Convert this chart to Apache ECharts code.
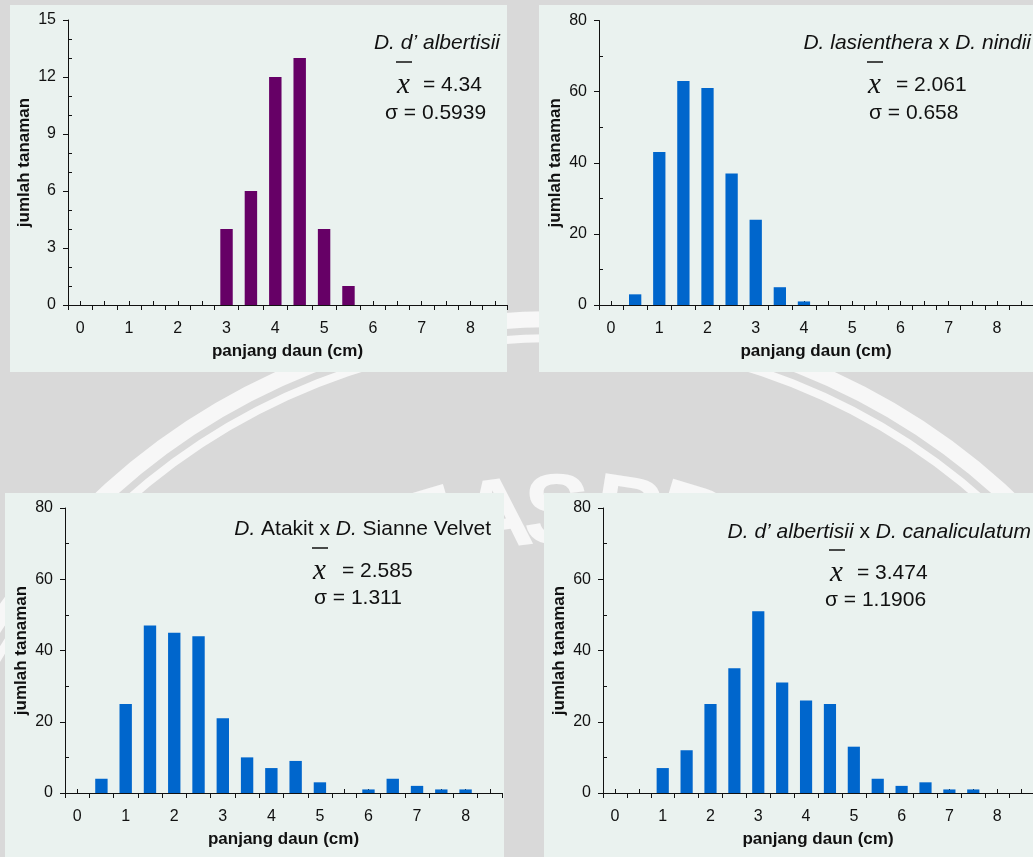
<!DOCTYPE html>
<html>
<head>
<meta charset="utf-8">
<script src="https://cdn.jsdelivr.net/npm/echarts@6/dist/echarts.min.js"></script>
<style>
  html, body { margin: 0; padding: 0; background: #d9d9d9; }
  #chart { width: 1033px; height: 857px; }
</style>
</head>
<body>
<div id="chart"></div>
<script>
// Leaf-length classes (cm), one bar per half-centimetre class
const lengthBins = ['0', '0.5', '1', '1.5', '2', '2.5', '3', '3.5', '4', '4.5',
                    '5', '5.5', '6', '6.5', '7', '7.5', '8', '8.5'];

// Number of plants per class
const countsAlbertisii = [0, 0, 0, 0, 0, 0, 4, 6, 12, 13, 4, 1, 0, 0, 0, 0, 0, 0];
const countsLasientheraNindii = [0, 3, 43, 63, 61, 37, 24, 5, 1, 0, 0, 0, 0, 0, 0, 0, 0, 0];
const countsAtakitSianne = [0, 4, 25, 47, 45, 44, 21, 10, 7, 9, 3, 0, 1, 4, 2, 1, 1, 0];
const countsAlbertisiiCanaliculatum = [0, 0, 7, 12, 25, 35, 51, 31, 26, 25, 13, 4, 2, 3, 1, 1, 0, 0];

// Summary statistics shown in each panel
const meanLabels = ['4.34', '2.061', '2.585', '3.474'];
const sigmaLabels = ['0.5939', '0.658', '1.311', '1.1906'];
const titleLabels = [
  '{i|D. d’ albertisii}',
  '{i|D. lasienthera} x {i|D. nindii}',
  '{i|D.} Atakit x {i|D.} Sianne Velvet',
  '{i|D. d’ albertisii} x {i|D. canaliculatum}'
];

// Y-axis ranges
const yMaxes = [15, 80, 80, 80];
const ySteps = [3, 20, 20, 20];
const yMinorSplits = [3, 2, 2, 2];

const xAxisName = 'panjang daun (cm)';
const yAxisName = 'jumlah tanaman';

const SANS = '"Liberation Sans", Arial, sans-serif';
const SERIF = '"Liberation Serif", "Times New Roman", serif';
const INK = '#111';
const NOTE_SIZE = 21;
const TICK_SIZE = 16;

const panels = [
  { values: countsAlbertisii, color: '#660066',
    bg: [10, 5, 497, 367], grid: { left: 68, top: 20, width: 439, height: 285 },
    titleAt: [500, 43], xAt: [397, 85], eqAt: [423, 85], sigmaAt: [385, 113] },
  { values: countsLasientheraNindii, color: '#0066cc',
    bg: [539, 5, 494, 367], grid: { left: 599, top: 20.5, width: 434, height: 284.5 },
    titleAt: [1031, 43], xAt: [868, 85], eqAt: [896, 85], sigmaAt: [869, 113] },
  { values: countsAtakitSianne, color: '#0066cc',
    bg: [5, 493, 499, 364], grid: { left: 65, top: 508, width: 437, height: 285 },
    titleAt: [491, 529], xAt: [313, 571], eqAt: [342, 571], sigmaAt: [314, 598] },
  { values: countsAlbertisiiCanaliculatum, color: '#0066cc',
    bg: [544, 493, 489, 364], grid: { left: 603, top: 508, width: 435, height: 285 },
    titleAt: [1031, 532], xAt: [830, 573], eqAt: [857, 573], sigmaAt: [825, 600] }
];

const grids = [], xAxes = [], yAxes = [], series = [], graphics = [];

// Watermark rings and lettering on the page background
graphics.push({
  type: 'circle', z: -30, silent: true,
  shape: { cx: 555, cy: 983, r: 664 },
  style: { fill: 'none', stroke: '#f7f7f7', lineWidth: 16 }
});
graphics.push({
  type: 'circle', z: -30, silent: true,
  shape: { cx: 555, cy: 983, r: 645 },
  style: { fill: 'none', stroke: '#f7f7f7', lineWidth: 8 }
});
const wmLetters = [['T', 412, 484], ['A', 490, 471], ['S', 557, 466], ['B', 636, 469], ['R', 704, 479]];
wmLetters.forEach(([ch, x, y]) => {
  graphics.push({
    type: 'text', z: -30, silent: true,
    x: x, y: y, rotation: (555 - x) / (983 - y),
    style: { text: ch, font: 'bold 100px "Liberation Sans Narrow", "Liberation Sans", sans-serif',
             fill: '#f7f7f7', textAlign: 'center', textVerticalAlign: 'top' }
  });
});

panels.forEach((p, i) => {
  grids.push(Object.assign({ containLabel: false }, p.grid));

  // panel background
  graphics.push({
    type: 'rect', z: -20, silent: true,
    shape: { x: p.bg[0], y: p.bg[1], width: p.bg[2], height: p.bg[3] },
    style: { fill: '#eaf2ef' }
  });

  // main category axis: labels, boundary ticks pointing down
  xAxes.push({
    type: 'category', gridIndex: i, data: lengthBins, position: 'bottom',
    boundaryGap: true,
    axisLine: { show: true, onZero: false, lineStyle: { color: INK, width: 1 } },
    axisTick: { show: true, interval: 0, length: 5, lineStyle: { color: INK } },
    axisLabel: { interval: 1, margin: 16, color: INK, fontSize: TICK_SIZE, fontFamily: SANS },
    splitLine: { show: false },
    name: xAxisName, nameLocation: 'middle', nameGap: 38,
    nameTextStyle: { color: INK, fontSize: 17, fontWeight: 'bold', fontFamily: SANS }
  });
  // companion axis: short ticks at class centres pointing up
  xAxes.push({
    type: 'category', gridIndex: i, data: lengthBins, position: 'bottom',
    boundaryGap: true,
    axisLine: { show: false },
    axisTick: { show: true, interval: 0, alignWithLabel: true, inside: true, length: 4,
                lineStyle: { color: INK } },
    axisLabel: { show: false },
    splitLine: { show: false }
  });

  // main value axis: labels, major ticks pointing left
  yAxes.push({
    type: 'value', gridIndex: i, min: 0, max: yMaxes[i], interval: ySteps[i],
    axisLine: { show: true, lineStyle: { color: INK, width: 1 } },
    axisTick: { show: true, length: 5, lineStyle: { color: INK } },
    axisLabel: { margin: 12, color: INK, fontSize: TICK_SIZE, fontFamily: SANS },
    splitLine: { show: false },
    name: yAxisName, nameLocation: 'middle', nameGap: 35, nameRotate: 90,
    nameTextStyle: { color: INK, fontSize: 17, fontWeight: 'bold', fontFamily: SANS }
  });
  // companion value axis: minor ticks pointing right
  yAxes.push({
    type: 'value', gridIndex: i, min: 0, max: yMaxes[i], interval: ySteps[i],
    position: 'left', offset: 0,
    axisLine: { show: false },
    axisTick: { show: false, inside: true },
    minorTick: { show: true, splitNumber: yMinorSplits[i], length: 4, lineStyle: { color: INK } },
    axisLabel: { show: false },
    splitLine: { show: false }
  });

  series.push({
    type: 'bar', xAxisIndex: 2 * i, yAxisIndex: 2 * i,
    data: p.values, barWidth: '51%',
    itemStyle: { color: p.color },
    silent: true
  });

  // species label and statistics
  graphics.push({
    type: 'text', z: 10,
    x: p.titleAt[0], y: p.titleAt[1],
    style: {
      text: titleLabels[i], textAlign: 'right', textVerticalAlign: 'middle',
      font: NOTE_SIZE + 'px ' + SANS, fill: INK,
      rich: { i: { fontStyle: 'italic', fontSize: NOTE_SIZE, fontFamily: SANS, fill: INK } }
    }
  });
  graphics.push({
    type: 'text', z: 10, x: p.xAt[0], y: p.xAt[1],
    style: { text: 'x', font: 'italic 29px ' + SERIF, fill: INK,
             textAlign: 'left', textVerticalAlign: 'middle' }
  });
  graphics.push({
    type: 'line', z: 10,
    shape: { x1: p.xAt[0] - 1, y1: p.xAt[1] - 23, x2: p.xAt[0] + 15, y2: p.xAt[1] - 23 },
    style: { stroke: INK, lineWidth: 1.5 }
  });
  graphics.push({
    type: 'text', z: 10, x: p.eqAt[0], y: p.eqAt[1],
    style: { text: '= ' + meanLabels[i], font: NOTE_SIZE + 'px ' + SANS, fill: INK,
             textAlign: 'left', textVerticalAlign: 'middle' }
  });
  graphics.push({
    type: 'text', z: 10, x: p.sigmaAt[0], y: p.sigmaAt[1],
    style: { text: 'σ = ' + sigmaLabels[i], font: NOTE_SIZE + 'px ' + SANS, fill: INK,
             textAlign: 'left', textVerticalAlign: 'middle' }
  });
});

const chart = echarts.init(document.getElementById('chart'), null, { renderer: 'canvas' });
chart.setOption({
  backgroundColor: '#d9d9d9',
  animation: false,
  grid: grids,
  xAxis: xAxes,
  yAxis: yAxes,
  series: series,
  graphic: graphics
});
</script>
</body>
</html>
